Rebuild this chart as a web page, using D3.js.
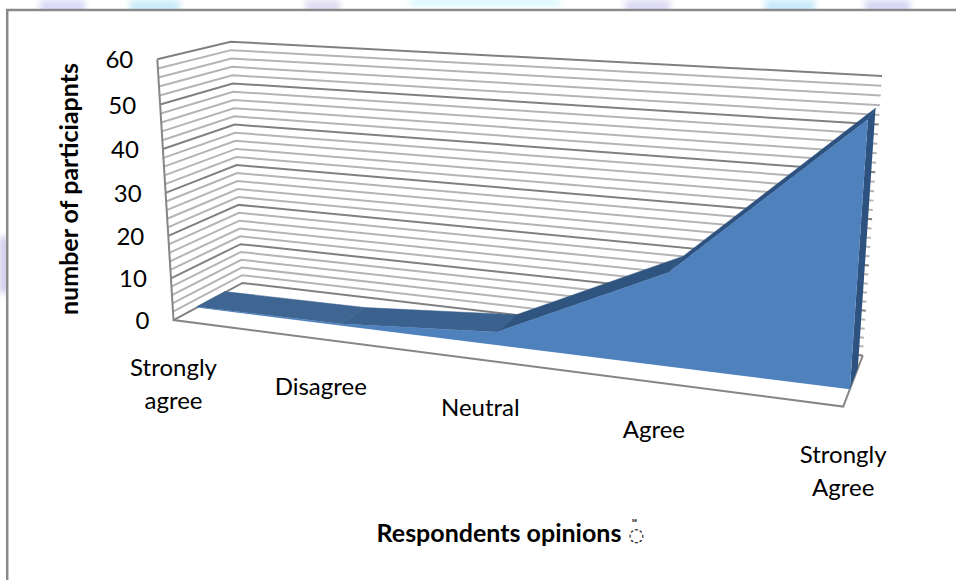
<!DOCTYPE html>
<html>
<head>
<meta charset="utf-8">
<script src="https://cdn.jsdelivr.net/npm/d3@7"></script>
<style>
  html, body { margin: 0; padding: 0; background: #fff; }
  svg { display: block; }
  text { font-family: Lato, "Open Sans", sans-serif; fill: #000; }
</style>
</head>
<body>
<svg id="chart" width="956" height="580"></svg>
<script>
// Survey results
const categories = [["Strongly", "agree"], ["Disagree"], ["Neutral"], ["Agree"], ["Strongly", "Agree"]];
const participants = [0.2, 0.4, 3, 20.5, 54.8];
const valueTicks = [0, 10, 20, 30, 40, 50, 60];
const gridValues = d3.range(0, 61, 2);
const xTitle = "Respondents opinions";
const yTitle = "number of particiapnts";

const width = 956, height = 580;
const svg = d3.select("#chart");

// Pale page decoration showing round the chart frame
const defs = svg.append("defs");
defs.append("filter").attr("id", "soft").append("feGaussianBlur").attr("stdDeviation", 3);
const blotches = [
  [40, 0, 45, 12, "#d9d9f6"], [130, 0, 50, 12, "#c9ecfb"], [305, 0, 35, 12, "#dedcf2"],
  [410, 0, 150, 5, "#c8f6fb"], [625, 0, 45, 12, "#dcd9f5"], [765, 0, 50, 12, "#c6e9fb"],
  [865, 0, 45, 12, "#d5d6f3"], [0, 237, 8, 56, "#c9c6ea"]
];
svg.append("g").attr("filter", "url(#soft)").selectAll("rect").data(blotches).join("rect")
  .attr("x", d => d[0]).attr("y", d => d[1]).attr("width", d => d[2]).attr("height", d => d[3])
  .attr("fill", d => d[4]);

// Chart frame, running off the right and bottom of the page
svg.append("rect").attr("x", 7.2).attr("y", 10).attr("width", 980).attr("height", 600)
  .attr("fill", "#fff").attr("stroke", "#8a8a8a").attr("stroke-width", 2.5);

// Perspective camera: a projective map of the unit box (u along categories,
// t up the value axis, w into the depth), fitted to the box corners by least squares.
const boxCorners = [
  [0, 0, 0, 174, 320], [0, 0, 1, 242, 283], [1, 0, 0, 843, 407], [1, 0, 1, 863, 355],
  [0, 1, 0, 157, 59], [0, 1, 1, 231, 42], [1, 1, 1, 882, 76]
];
function fitCamera(points) {
  const rows = [], rhs = [];
  points.forEach(([u, t, w, x, y]) => {
    rows.push([u, t, w, 1, 0, 0, 0, 0, -x * u, -x * t, -x * w]); rhs.push(x);
    rows.push([0, 0, 0, 0, u, t, w, 1, -y * u, -y * t, -y * w]); rhs.push(y);
  });
  const n = 11;
  const M = d3.range(n).map(i => d3.range(n + 1).map(j =>
    d3.sum(rows, (r, k) => r[i] * (j < n ? r[j] : rhs[k]))));
  for (let c = 0; c < n; c++) {
    let p = c;
    for (let r = c + 1; r < n; r++) if (Math.abs(M[r][c]) > Math.abs(M[p][c])) p = r;
    [M[c], M[p]] = [M[p], M[c]];
    for (let r = 0; r < n; r++) {
      if (r === c) continue;
      const f = M[r][c] / M[c][c];
      for (let j = c; j <= n; j++) M[r][j] -= f * M[c][j];
    }
  }
  return M.map((r, i) => r[n] / r[i]);
}
const cam = fitCamera(boxCorners);
function project(u, t, w) {
  const d = cam[8] * u + cam[9] * t + cam[10] * w + 1;
  return [(cam[0] * u + cam[1] * t + cam[2] * w + cam[3]) / d,
          (cam[4] * u + cam[5] * t + cam[6] * w + cam[7]) / d];
}

const uScale = d3.scalePoint().domain(d3.range(categories.length)).range([0, 1]);
const tScale = d3.scaleLinear().domain([0, 60]).range([0, 1]);
const seriesFront = 0.32, seriesBack = 0.73;
const line = d3.line();

// Side and back walls with their gridlines
const grid = svg.append("g").attr("fill", "none");
grid.selectAll("path").data(gridValues.slice().sort((a, b) => (a % 10 === 0) - (b % 10 === 0))).join("path")
  .attr("d", v => line([project(0, tScale(v), 0), project(0, tScale(v), 1), project(1, tScale(v), 1)]))
  .attr("stroke", v => v % 10 === 0 ? "#808080" : "#b4b4b4")
  .attr("stroke-width", 2);

// Left edge of the side wall and the floor outline
grid.append("path")
  .attr("d", line([project(0, 1, 0), project(0, 0, 0), project(1, 0, 0), project(1, 0, 1)]))
  .attr("stroke", "#868686").attr("stroke-width", 2);

// Area series: top surface, right end and front face
const area = svg.append("g");
const topAt = (i, w) => project(uScale(i), tScale(participants[i]), w);
const baseAt = (i, w) => project(uScale(i), 0, w);
const last = participants.length - 1;
const topColors = ["#3f6692", "#3b618e", "#2f5480", "#2e5280"];
area.selectAll("path.top").data(d3.range(last)).join("path").attr("class", "top")
  .attr("d", i => line([topAt(i, seriesFront), topAt(i, seriesBack), topAt(i + 1, seriesBack), topAt(i + 1, seriesFront)]) + "Z")
  .attr("fill", i => topColors[i]).attr("stroke", i => topColors[i]).attr("stroke-width", 0.5);
area.append("path")
  .attr("d", line([baseAt(last, seriesFront), baseAt(last, seriesBack), topAt(last, seriesBack), topAt(last, seriesFront)]) + "Z")
  .attr("fill", "#2e5280");
area.append("path")
  .attr("d", line([baseAt(0, seriesFront), ...d3.range(last + 1).map(i => topAt(i, seriesFront)), baseAt(last, seriesFront)]) + "Z")
  .attr("fill", "#4f81bd");

// Value axis labels
svg.append("g").selectAll("text").data(valueTicks).join("text")
  .attr("x", v => project(0, tScale(v), 0)[0] - 24)
  .attr("y", v => project(0, tScale(v), 0)[1] + 9)
  .attr("text-anchor", "end").attr("font-size", 24)
  .text(v => v);

// Category labels under the front floor edge
svg.append("g").selectAll("text").data(categories).join("text")
  .attr("text-anchor", "middle").attr("font-size", 24)
  .attr("transform", (c, i) => {
    const p = project(uScale(i), 0, 0);
    return `translate(${p[0]},${p[1] + 56})`;
  })
  .selectAll("tspan").data(c => c).join("tspan")
  .attr("x", 0).attr("dy", (d, i) => i ? 33 : 0).text(d => d);

// Axis titles, with the stray symbol after the horizontal one
svg.append("text").attr("x", 499).attr("y", 542).attr("text-anchor", "middle")
  .attr("font-size", 25).attr("font-weight", 700).text(xTitle);
svg.append("text").attr("x", 628.5).attr("y", 541).attr("font-size", 18)
  .style("font-family", "'DejaVu Sans'").text("\u25CC");
svg.append("text").attr("x", 632).attr("y", 522).attr("font-size", 5).attr("font-weight", 700).text("se");
svg.append("text").attr("transform", "translate(78,189) rotate(-90)").attr("text-anchor", "middle")
  .attr("font-size", 25).attr("font-weight", 700).text(yTitle);
</script>
</body>
</html>
